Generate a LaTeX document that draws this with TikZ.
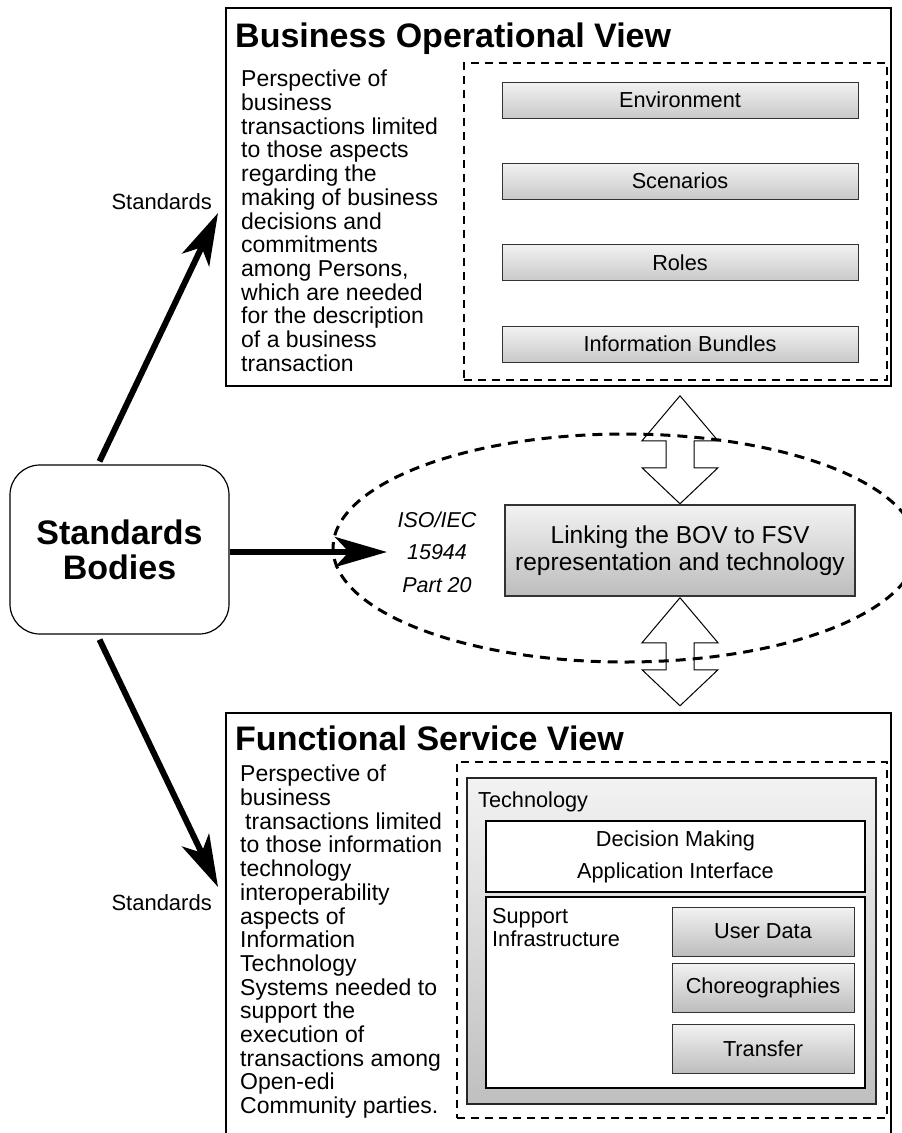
\documentclass[tikz,border=0pt]{standalone}
\usepackage{fontspec}
\setmainfont{Liberation Sans}
\usetikzlibrary{shapes.geometric,arrows.meta}
\newcommand{\BodyFont}{\fontsize{23}{23.7}\selectfont}
\newcommand{\LabelFont}{\fontsize{21.7}{26}\selectfont}
\newcommand{\TitleFont}{\fontsize{34}{36}\selectfont\bfseries}
\definecolor{boxtop}{HTML}{F2F2F2}
\definecolor{boxbot}{HTML}{C9C9C9}
\definecolor{darkbot}{HTML}{BDBDBD}

\tikzset{
  viewbox/.style={draw, line width=1.5pt, minimum width=665pt, inner sep=0pt},
  dashbox/.style={draw, line width=2pt, dash pattern=on 8pt off 6pt, inner sep=0pt},
  greybox/.style={draw=black!80, line width=1pt, top color=boxtop, bottom color=boxbot, inner sep=0pt, font=\LabelFont},
  whitebox/.style={draw, line width=1.5pt, fill=white, inner sep=0pt, minimum width=379pt},
  bigarrow/.style={line width=6pt, -{Stealth[length=52pt,width=30pt,inset=14pt]}},
  dblarr/.pic={\draw[line width=1pt, fill=white] (0,0) -- (38,45) -- (14,45) -- (14,72) -- (38,72) -- (0,108) -- (-38,72) -- (-14,72) -- (-14,45) -- (-38,45) -- cycle;}
}

\begin{document}
\begin{tikzpicture}[x=1pt,y=-1pt]
\useasboundingbox (0,0) rectangle (902,1133);

% business operational view
\node (bov) [viewbox, minimum height=378pt] at (558.5,197) {};
\node (bovtitle) [anchor=base west, inner sep=0pt, font=\TitleFont] at (235,47) {Business Operational View};
\node (bovtext) [anchor=north west, inner sep=0pt, align=left, font=\BodyFont] at (241,70) {Perspective of\\business\\transactions limited\\to those aspects\\regarding the\\making of business\\decisions and\\commitments\\among Persons,\\which are needed\\for the description\\of a business\\transaction};
\node (bovset) [dashbox, minimum width=423pt, minimum height=317pt] at (675.5,221.5) {};
\node (env) [greybox, minimum width=356pt, minimum height=36pt] at (680,100) {Environment};
\node (scen) [greybox, minimum width=356pt, minimum height=36pt] at (680,181) {Scenarios};
\node (roles) [greybox, minimum width=356pt, minimum height=36pt] at (680,262.5) {Roles};
\node (bundles) [greybox, minimum width=356pt, minimum height=36pt] at (680,344) {Information Bundles};

% standards bodies
\node (sb) [draw, line width=1.2pt, rounded corners=30pt, minimum width=219pt, minimum height=169pt, align=center, font=\fontsize{34}{35}\selectfont\bfseries] at (119.5,549.5) {Standards\\Bodies};
\node (stdup) [anchor=base east, inner sep=0pt, font=\fontsize{22}{24}\selectfont] at (212,209) {Standards};
\node (stddown) [anchor=base east, inner sep=0pt, font=\fontsize{22}{24}\selectfont] at (212,910) {Standards};

% linking part
\node (link) [greybox, line width=1.5pt, bottom color=darkbot, minimum width=350pt, minimum height=91pt, align=center, font=\fontsize{24.5}{27}\selectfont] at (680,550.5) {Linking the BOV to FSV\\representation and technology};
\coordinate (uparr) at (link.north |- bov.south);
\pic at ([yshift=-9pt]uparr) {dblarr};
\pic at ([yshift=-1pt]link.south) {dblarr};
\node (part20) [ellipse, draw, line width=3pt, dash pattern=on 10pt off 7pt, minimum width=584pt, minimum height=228pt, inner sep=0pt] at (625,548) {};
\node (iso) [align=center, inner sep=0pt, font=\fontsize{21.5}{32.5}\selectfont\itshape] at (437,552) {ISO/IEC\\15944\\Part 20};

% functional service view
\node (fsv) [viewbox, minimum height=432pt] at (558.5,929) {};
\node (fsvtitle) [anchor=base west, inner sep=0pt, font=\TitleFont] at (235,750) {Functional Service View};
\node (fsvtext) [anchor=north west, inner sep=0pt, align=left, font=\BodyFont] at (240,765) {Perspective of\\business\\\hspace{5pt}transactions limited\\to those information\\technology\\interoperability\\aspects of\\Information\\Technology\\Systems needed to\\support the\\execution of\\transactions among\\Open-edi\\Community parties.};
\node (fsvset) [dashbox, minimum width=430pt, minimum height=356pt] at (672,940) {};
\node (tech) [draw=black!85, line width=1.5pt, top color=black!5, bottom color=black!25, inner sep=0pt, minimum width=409pt, minimum height=326pt] at (671.5,941) {};
\node (techlbl) [anchor=base west, inner sep=0pt, font=\LabelFont] at (478,807) {Technology};
\node (decision) [whitebox, minimum height=71pt, align=center, font=\fontsize{21.7}{32}\selectfont] at (675.5,856.5) {Decision Making\\Application Interface};
\node (support) [whitebox, minimum height=191pt] at (675.5,992.5) {};
\node (supportlbl) [anchor=north west, inner sep=0pt, align=left, font=\fontsize{21.7}{23}\selectfont] at (492,908) {Support\\Infrastructure};
\node (userdata) [greybox, bottom color=darkbot, minimum width=182pt, minimum height=49pt] at (763,931.5) {User Data};
\node (choreo) [greybox, bottom color=darkbot, minimum width=182pt, minimum height=49pt] at (763,987.5) {Choreographies};
\node (transfer) [greybox, bottom color=darkbot, minimum width=182pt, minimum height=49pt] at (763,1048.5) {Transfer};

% arrows from the standards bodies
\coordinate (bovtip) at (218,213);
\coordinate (fsvtip) at (218,887);
\coordinate (isotip) at (387,552);
\draw[bigarrow] ([xshift=-20pt,yshift=3pt]sb.north) -- (bovtip);
\draw[bigarrow] ([xshift=-20pt,yshift=-5pt]sb.south) -- (fsvtip);
\draw[bigarrow] (sb.east |- isotip) -- (isotip);

\end{tikzpicture}
\end{document}
